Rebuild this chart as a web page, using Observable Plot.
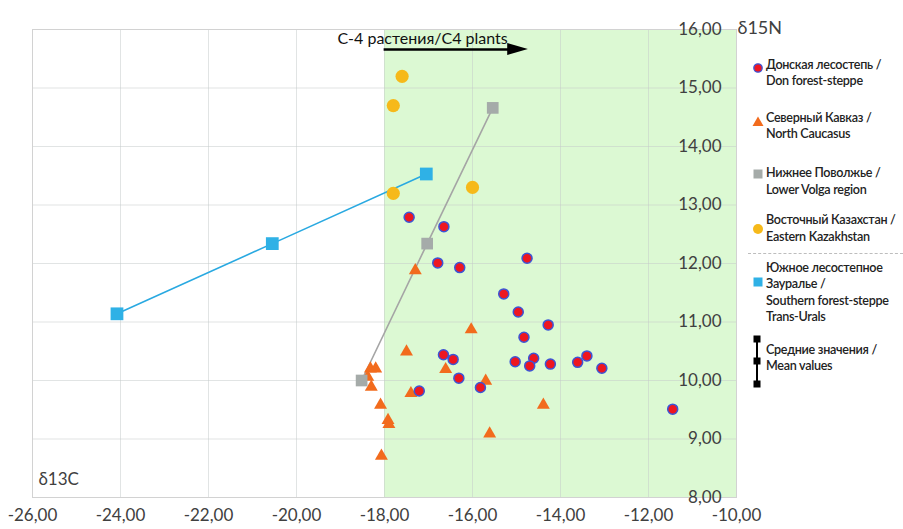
<!DOCTYPE html>
<html>
<head>
<meta charset="utf-8">
<script src="https://cdn.jsdelivr.net/npm/d3@7"></script>
<script src="https://cdn.jsdelivr.net/npm/@observablehq/plot@0.6"></script>
<style>
  html, body { margin: 0; padding: 0; background: #fff; }
  #wrap { position: relative; width: 903px; height: 529px; overflow: hidden; font-family: Lato, "Open Sans", sans-serif; }
  #wrap svg { position: absolute; left: 0; top: 0; }
  .lg { position: absolute; left: 766px; font-size: 12.6px; letter-spacing: -0.3px; font-weight: 600; line-height: 16.5px; color: #222; white-space: nowrap; }
  .sep { position: absolute; left: 748px; width: 155px; top: 253px; border-top: 1px dashed #bdbdbd; }
</style>
</head>
<body>
<div id="wrap"></div>
<script>
// ---- data (δ13C, δ15N) ----
const xTicks = [-26, -24, -22, -20, -18, -16, -14, -12, -10];
const yTicks = [8, 9, 10, 11, 12, 13, 14, 15, 16];

const donX = [-17.44, -16.65, -16.79, -16.29, -14.76, -15.29, -14.96, -14.28, -14.83, -16.66, -16.44, -15.03, -14.61, -14.70, -14.23, -13.61, -13.40, -13.06, -16.31, -15.82, -17.21, -11.45];
const donY = [12.79, 12.63, 12.01, 11.93, 12.09, 11.48, 11.17, 10.95, 10.74, 10.44, 10.36, 10.32, 10.38, 10.25, 10.28, 10.31, 10.42, 10.21, 10.04, 9.88, 9.82, 9.51];

const caucX = [-17.30, -16.03, -17.50, -16.61, -18.32, -18.20, -18.38, -18.30, -15.70, -17.40, -18.09, -14.39, -17.92, -17.90, -15.61, -18.07];
const caucY = [11.88, 10.87, 10.49, 10.19, 10.20, 10.20, 10.06, 9.89, 9.99, 9.78, 9.58, 9.58, 9.32, 9.25, 9.09, 8.71];

const volgaX = [-18.52, -17.03, -15.54];
const volgaY = [10.00, 12.34, 14.66];

const kazX = [-17.60, -17.80, -17.80, -16.00];
const kazY = [15.20, 14.70, 13.20, 13.30];

const uralsX = [-24.08, -20.55, -17.05];
const uralsY = [11.14, 12.34, 13.53];

// C4 zone and annotation
const c4Zone = [{start: -18, end: -10}];
const c4Label = ["C-4 растения/C4 plants"];
const arrowShaft = [{x1: -18.02, x2: -15.15, y: 15.658}];
const arrowHead = [{x: -15.2, y1: 15.555, y2: 15.761}, {x: -14.73, y1: 15.658, y2: 15.658}];
const labelPos = [{x: -19.07, y: 15.846}];

const zip = (xs, ys) => xs.map((x, i) => ({x, y: ys[i]}));
const don = zip(donX, donY);
const cauc = zip(caucX, caucY);
const volga = zip(volgaX, volgaY);
const kaz = zip(kazX, kazY);
const urals = zip(uralsX, uralsY);

const fmt = d => d.toFixed(2).replace(".", ",");
const txt = "#404040";

const chart = Plot.plot({
  width: 903,
  height: 529,
  marginLeft: 32,
  marginRight: 167,
  marginTop: 29,
  marginBottom: 32,
  x: {domain: [-26, -10], axis: null},
  y: {domain: [8, 16], axis: null},
  style: {fontFamily: "Lato, 'Open Sans', sans-serif", background: "transparent", overflow: "visible"},
  marks: [
    Plot.rect(c4Zone, {x1: "start", x2: "end", fill: "#dcf9d3"}),
    Plot.ruleX(xTicks, {stroke: "#c4c9c9", strokeOpacity: 0.5}),
    Plot.ruleY(yTicks, {stroke: "#c4c9c9", strokeOpacity: 0.5}),
    Plot.frame({stroke: "#d2d2d2"}),
    // axis labels
    Plot.text(xTicks, {x: d => d, text: fmt, frameAnchor: "bottom", dy: 23, fontSize: 17, fill: txt}),
    Plot.text(yTicks, {y: d => d, text: fmt, frameAnchor: "right", dx: -15, textAnchor: "end", fontSize: 17, fill: txt}),
    Plot.text(["δ13C"], {frameAnchor: "bottom-left", dx: 6, dy: -13, textAnchor: "start", fontSize: 17, fill: txt}),
    Plot.text(["δ15N"], {frameAnchor: "top-right", dx: 1, dy: -8, textAnchor: "start", fontSize: 18, fill: txt}),
    // C4 annotation
    Plot.text(labelPos, {x: "x", y: "y", text: () => c4Label[0], textAnchor: "start", fontSize: 16, fill: "#111"}),
    Plot.link(arrowShaft, {x1: "x1", x2: "x2", y1: "y", y2: "y", stroke: "#000", strokeWidth: 2.5}),
    Plot.areaY(arrowHead, {x: "x", y1: "y1", y2: "y2", fill: "#000"}),
    // series
    Plot.line(urals, {x: "x", y: "y", stroke: "#29a9e1", strokeWidth: 1.6}),
    Plot.line(volga, {x: "x", y: "y", stroke: "#a5a5a5", strokeWidth: 1.6}),
    Plot.dot(cauc, {x: "x", y: "y", symbol: "triangle", r: 4.8, fill: "#f26b1d"}),
    Plot.dot(don, {x: "x", y: "y", r: 5, fill: "#ee1620", stroke: "#3c55d6", strokeWidth: 1.5}),
    Plot.dot(volga, {x: "x", y: "y", symbol: "square", r: 6.6, fill: "#a5aba9"}),
    Plot.dot(kaz, {x: "x", y: "y", r: 6.6, fill: "#f6b91a"}),
    Plot.dot(urals, {x: "x", y: "y", symbol: "square", r: 7.2, fill: "#2fb1e6"})
  ]
});

const wrap = document.getElementById("wrap");
wrap.appendChild(chart);

// ---- legend ----
const legendItems = [
  {lines: ["Донская лесостепь /", "Don forest-steppe"], top: 56.5, mk: 67.5, shape: "donc"},
  {lines: ["Северный Кавказ /", "North Caucasus"], top: 109.5, mk: 121.5, shape: "tri"},
  {lines: ["Нижнее Поволжье /", "Lower Volga region"], top: 165, mk: 174, shape: "gsq"},
  {lines: ["Восточный Казахстан /", "Eastern Kazakhstan"], top: 212, mk: 229, shape: "ycirc"},
  {lines: ["Южное лесостепное", "Зауралье /", "Southern forest-steppe", "Trans-Urals"], top: 259.5, mk: 282, shape: "bsq"},
  {lines: ["Средние значения /", "Mean values"], top: 341.5, mk: 361, shape: "mean"}
];
const shapes = {
  donc: '<circle cx="10" cy="10" r="4.2" fill="#ee1620" stroke="#3c55d6" stroke-width="1.3"/>',
  tri: '<path d="M10 4.5 L15.5 14 L4.5 14 Z" fill="#f26b1d"/>',
  gsq: '<rect x="5.5" y="5.5" width="9" height="9" fill="#a5aba9"/>',
  ycirc: '<circle cx="10" cy="10" r="5" fill="#f6b91a"/>',
  bsq: '<rect x="5.5" y="5.5" width="9" height="9" fill="#2fb1e6"/>'
};
for (const it of legendItems) {
  const d = document.createElement("div");
  d.className = "lg";
  d.style.top = it.top + "px";
  d.innerHTML = it.lines.join("<br>");
  wrap.appendChild(d);
  const m = document.createElementNS("http://www.w3.org/2000/svg", "svg");
  if (it.shape === "mean") {
    m.setAttribute("width", 20); m.setAttribute("height", 60);
    m.style.cssText = "position:absolute;left:747px;top:" + (it.mk - 30) + "px;overflow:visible";
    m.innerHTML = '<line x1="10" x2="10" y1="8" y2="53" stroke="#000" stroke-width="2"/>' +
      '<rect x="6.5" y="4.5" width="7" height="7" fill="#000"/>' +
      '<rect x="6.5" y="26.5" width="7" height="7" fill="#000"/>' +
      '<rect x="6.5" y="49.5" width="7" height="7" fill="#000"/>';
  } else {
    m.setAttribute("width", 20); m.setAttribute("height", 20);
    m.style.cssText = "position:absolute;left:748px;top:" + (it.mk - 10) + "px;overflow:visible";
    m.innerHTML = shapes[it.shape];
  }
  wrap.appendChild(m);
}
const sep = document.createElement("div");
sep.className = "sep";
wrap.appendChild(sep);
</script>
</body>
</html>
